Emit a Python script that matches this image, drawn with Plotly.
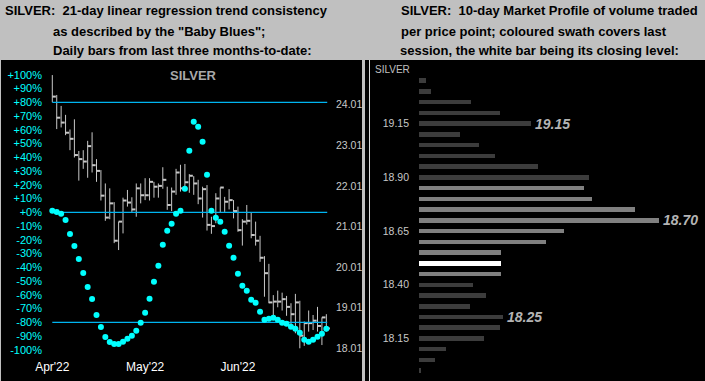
import plotly.graph_objects as go

W, H = 705, 381

# ---------------- data ----------------
month_ticks = [0, 21, 42]
month_labels = ["Apr'22", "May'22", "Jun'22"]

highs = [24.74, 24.25, 23.98, 23.76, 23.40, 23.65, 22.87, 22.89, 23.12, 23.33,
         22.67, 22.40, 22.07, 21.95, 21.61, 21.13, 21.72, 21.91, 21.73, 22.07,
         22.07, 22.20, 22.20, 22.11, 22.07, 22.47, 21.99, 21.97, 22.43, 22.53,
         22.55, 22.30, 22.25, 22.16, 21.99, 22.03, 21.25, 21.83, 21.97, 21.74,
         21.93, 21.66, 21.50, 21.19, 21.54, 21.35, 21.13, 20.78, 20.28, 20.09,
         19.32, 19.43, 19.38, 19.30, 19.12, 19.35, 19.18, 18.67, 18.94, 18.83,
         19.03, 18.77, 18.85]
lows = [24.07, 23.41, 23.45, 23.26, 22.89, 22.71, 22.14, 22.43, 22.21, 22.34,
        22.11, 21.65, 21.15, 21.19, 20.60, 20.43, 20.84, 21.50, 21.37, 21.25,
        21.58, 21.66, 21.65, 21.72, 21.72, 21.94, 21.42, 21.39, 21.79, 21.87,
        21.98, 21.84, 21.79, 21.56, 21.23, 20.91, 20.83, 21.09, 21.35, 21.37,
        21.43, 21.21, 20.88, 20.54, 21.06, 20.72, 20.54, 20.14, 19.28, 19.12,
        18.75, 19.02, 18.94, 18.81, 18.58, 18.38, 18.01, 18.07, 18.42, 18.46,
        18.42, 18.09, 18.42]
closes = [24.21, 23.69, 23.57, 23.32, 23.17, 22.77, 22.67, 22.61, 22.99, 22.52,
          22.38, 21.77, 21.23, 21.58, 20.66, 21.13, 21.65, 21.60, 21.43, 21.95,
          21.78, 21.78, 22.11, 21.99, 22.01, 22.16, 21.54, 21.87, 22.34, 21.95,
          22.10, 22.26, 22.07, 21.70, 21.93, 21.05, 21.02, 21.70, 21.97, 21.62,
          21.66, 21.39, 20.92, 21.13, 21.15, 20.80, 20.66, 20.24, 19.86, 19.14,
          19.16, 19.16, 19.22, 19.03, 18.85, 19.14, 18.32, 18.63, 18.63, 18.69,
          18.56, 18.77, 18.50]
baby_blues = [1.2, 0.2, -1.0, -5.6, -15.8, -24.5, -34.0, -44.1, -54.3, -63.1,
              -74.7, -83.4, -90.7, -94.3, -95.7, -95.7, -94.1, -91.9, -89.7, -86.1,
              -80.3, -73.0, -62.8, -50.5, -38.8, -23.6, -13.4, -8.3, -1.0, 1.2,
              17.2, 44.8, 65.9, 62.3, 51.3, 27.3, 1.2, -3.9, -6.8, -14.1,
              -24.3, -33.0, -44.7, -53.4, -57.0, -63.6, -65.7, -72.3, -78.1, -77.4,
              -76.7, -78.1, -80.3, -81.0, -83.2, -84.7, -87.6, -92.7, -94.1, -92.7,
              -90.5, -88.3, -84.7]
trend_levels = [80, 0, -80]
pct_ticks = list(range(-100, 101, 10))
pct_labels = [("+%d%%" % v) if v >= 0 else ("%d%%" % v) for v in pct_ticks]
price_ticks = [18.01, 19.01, 20.01, 21.01, 22.01, 23.01, 24.01]
price_labels = ["18.01", "19.01", "20.01", "21.01", "22.01", "23.01", "24.01"]

profile_prices = [19.35, 19.30, 19.25, 19.20, 19.15, 19.10, 19.05, 19.00, 18.95, 18.90,
                  18.85, 18.80, 18.75, 18.70, 18.65, 18.60, 18.55, 18.50, 18.45, 18.40,
                  18.35, 18.30, 18.25, 18.20, 18.15, 18.10, 18.05, 18.00]
profile_volume = [7, 12, 52, 81, 112, 41, 60, 76, 119, 170,
                  165, 173, 216, 240, 145, 127, 82, 82, 82, 54,
                  67, 51, 84, 81, 65, 27, 16, 2]
swath_low, swath_high = 18.45, 18.85
close_level = 18.50
peak_levels = [19.15, 18.70, 18.25]
profile_ticks = [18.15, 18.40, 18.65, 18.90, 19.15]

# ---------------- helpers ----------------
def px_x(p):
    return p / W

def px_y(p):
    return 1 - p / H

n = len(closes)
idx = list(range(n))

fig = go.Figure()

# High-low vertical lines
vx, vy = [], []
for i in idx:
    vx += [i, i, None]
    vy += [lows[i], highs[i], None]
fig.add_trace(go.Scatter(x=vx, y=vy, mode="lines", line=dict(color="#C8C8C8", width=1),
                         xaxis="x", yaxis="y", hoverinfo="skip", showlegend=False))
# close ticks
cx, cy = [], []
for i in idx:
    cx += [i, i + 0.8, None]
    cy += [closes[i], closes[i], None]
fig.add_trace(go.Scatter(x=cx, y=cy, mode="lines", line=dict(color="#C8C8C8", width=2),
                         xaxis="x", yaxis="y", hoverinfo="skip", showlegend=False))

# trend levels
for lv in trend_levels:
    fig.add_trace(go.Scatter(x=[idx[0], idx[-1] + 0.2], y=[lv, lv], mode="lines",
                             line=dict(color="#00B4F0", width=1.3),
                             xaxis="x", yaxis="y2", hoverinfo="skip", showlegend=False))
# baby blues
fig.add_trace(go.Scatter(x=idx, y=baby_blues, mode="markers",
                         marker=dict(color="#00FFFF", size=6, symbol="circle",
                                     line=dict(width=0)),
                         xaxis="x", yaxis="y2", showlegend=False))

# market profile
colors = []
for p in profile_prices:
    if abs(p - close_level) < 1e-6:
        colors.append("#FFFFFF")
    elif swath_low - 1e-6 <= p <= swath_high + 1e-6:
        colors.append("#808080")
    else:
        colors.append("#3C3C3C")
fig.add_trace(go.Bar(x=profile_volume, y=profile_prices, orientation="h",
                     marker=dict(color=colors, line=dict(width=0)), width=0.021,
                     xaxis="x2", yaxis="y3", showlegend=False))

for lv in peak_levels:
    v = profile_volume[profile_prices.index(lv)]
    fig.add_annotation(x=v, y=lv, xref="x2", yref="y3", text="<b><i>%.2f</i></b>" % lv,
                       showarrow=False, xanchor="left", yanchor="middle", xshift=2,
                       font=dict(family="Liberation Sans", size=14, color="#B4B4B4"))

# ---------------- backgrounds ----------------
shapes = [
    dict(type="rect", xref="paper", yref="paper", x0=px_x(1), x1=px_x(362), y0=0, y1=px_y(60),
         fillcolor="black", line=dict(width=0), layer="below"),
    dict(type="rect", xref="paper", yref="paper", x0=px_x(365), x1=1, y0=0, y1=px_y(60),
         fillcolor="black", line=dict(width=0), layer="below"),
    dict(type="line", xref="paper", yref="paper", x0=px_x(369.5), x1=px_x(369.5), y0=0, y1=px_y(60),
         line=dict(color="#D8D8D8", width=1), layer="below"),
]

hdr_font = dict(family="Liberation Sans", size=13, color="black")
headers = [
    (3, 11, "<b>SILVER:\u00a0 21-day linear regression trend consistency</b>"),
    (51, 31, "<b>as described by the \"Baby Blues\";</b>"),
    (51, 50.5, "<b>Daily bars from last three months-to-date:</b>"),
    (399, 11, "<b>SILVER:\u00a0 10-day Market Profile of volume traded</b>"),
    (399, 31, "<b>per price point; coloured swath covers last</b>"),
    (398, 50.5, "<b>session, the white bar being its closing level:</b>"),
]
for x, y, t in headers:
    fig.add_annotation(x=px_x(x), y=px_y(y), xref="paper", yref="paper", text=t,
                       showarrow=False, xanchor="left", yanchor="middle", font=hdr_font)

fig.add_annotation(x=px_x(193.5), y=px_y(75.5), xref="paper", yref="paper", text="<b>SILVER</b>",
                   showarrow=False, xanchor="center", yanchor="middle",
                   font=dict(family="Liberation Sans", size=13, color="#A8A8A8"))
fig.add_annotation(x=px_x(373), y=px_y(70), xref="paper", yref="paper", text="SILVER",
                   showarrow=False, xanchor="left", yanchor="middle",
                   font=dict(family="Liberation Sans", size=10, color="#C0C0C0"))

fig.update_layout(
    width=W, height=H,
    margin=dict(l=0, r=0, t=0, b=0, pad=0, autoexpand=False),
    paper_bgcolor="#C0C0C0",
    plot_bgcolor="rgba(0,0,0,0)",
    shapes=shapes,
    bargap=0,
    xaxis=dict(domain=[px_x(48), px_x(332)], range=[-0.973, 63.28],
               tickvals=month_ticks, ticktext=month_labels, ticks="",
               showgrid=False, zeroline=False, showline=False, automargin=False,
               tickfont=dict(family="Liberation Sans", size=12, color="white"),
               ticklabelstandoff=2, anchor="y"),
    yaxis=dict(domain=[px_y(356), px_y(62)], range=[17.820, 25.062], side="right",
               tickvals=price_ticks, ticktext=price_labels, ticks="",
               showgrid=False, zeroline=False, showline=False, anchor="x", automargin=False,
               tickfont=dict(family="Liberation Sans", size=10.5, color="#C8C8C8"),
               ticklabelstandoff=3),
    yaxis2=dict(range=[-104.51, 109.31], overlaying="y", side="left", anchor="x",
                tickvals=pct_ticks, ticktext=pct_labels, ticks="", automargin=False,
                showgrid=False, zeroline=False, showline=False,
                tickfont=dict(family="Liberation Sans", size=11, color="#00FFFF"),
                ticklabelstandoff=5),
    xaxis2=dict(domain=[px_x(419), 1.0], range=[0, 286], visible=False, anchor="y3",
                automargin=False),
    yaxis3=dict(domain=[px_y(378), px_y(62)], range=[17.966, 19.437], anchor="x2",
                tickvals=profile_ticks, ticktext=["%.2f" % v for v in profile_ticks],
                ticks="", showgrid=False, zeroline=False, showline=False, automargin=False,
                tickfont=dict(family="Liberation Sans", size=10.5, color="#C8C8C8"),
                ticklabelstandoff=9),
)

fig.write_html("out.html", config=dict(displayModeBar=False),
               post_script="document.body.style.margin='0';document.body.style.padding='0';document.body.style.overflow='hidden';")
